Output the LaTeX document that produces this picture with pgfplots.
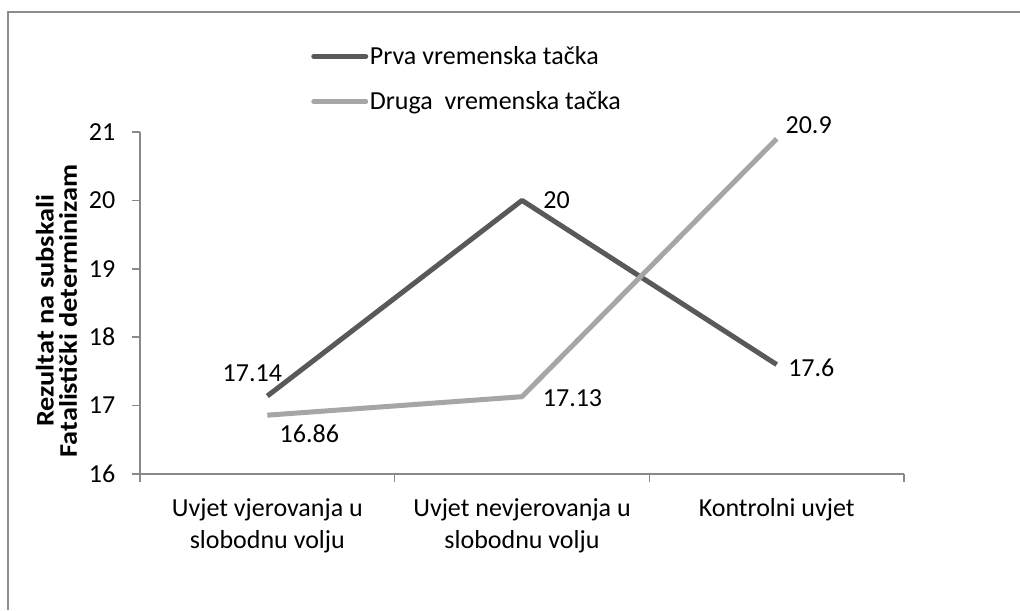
\documentclass[border=0pt]{standalone}
\usepackage{graphicx}
\usepackage{pgfplots}
\pgfplotsset{compat=1.18}
\usepackage{fontspec}
\setmainfont{Carlito}
\definecolor{prva}{HTML}{595959}
\definecolor{druga}{HTML}{A6A6A6}
\definecolor{axgray}{HTML}{898989}
\definecolor{framegray}{HTML}{8C8C8C}
\begin{document}
\begin{tikzpicture}
\useasboundingbox (0,0) rectangle (765pt,457.5pt);
\draw[framegray, line width=1.3pt] (6pt,0pt) -- (6pt,448.5pt) -- (765pt,448.5pt);
\begin{axis}[
  at={(105pt,102pt)}, anchor=south west,
  scale only axis, width=573pt, height=256.5pt,
  xmin=-0.5, xmax=2.5, ymin=16, ymax=21,
  axis lines=left, axis line style={-, axgray, line width=1.1pt},
  ytick={16,17,18,19,20,21},
  xtick={0,1,2},
  xticklabels={{Uvjet vjerovanja u\\slobodnu volju},{Uvjet nevjerovanja u\\slobodnu volju},{Kontrolni uvjet}},
  minor xtick={-0.5,0.5,1.5,2.5},
  major x tick style={draw=none},
  tick align=outside,
  tick style={axgray, line width=1.1pt},
  major tick length=6pt, minor tick length=6pt,
  xticklabel style={align=center, font=\fontsize{19.5}{23.6}\selectfont, yshift=-9pt},
  yticklabel style={font=\fontsize{19.5}{22}\selectfont, xshift=-9pt},
  /pgf/number format/assume math mode=true,
  ylabel={\scalebox{1.12}[1]{\textbf{Rezultat na subskali}}\\\scalebox{1.12}[1]{\textbf{Fatalistički determinizam}}},
  every axis y label/.style={at={(ticklabel cs:0.477)}, rotate=90, anchor=south, align=center,
    font=\fontsize{19}{17.5}\selectfont, yshift=2pt},
  legend style={draw=none, fill=none, inner sep=0pt, at={(rel axis cs:0.2238,1.155)}, anchor=west,
    font=\fontsize{19.5}{22}\selectfont, row sep=19pt, nodes={inner xsep=1.2pt, inner ysep=0pt}},
  legend cell align=left,
  legend image code/.code={\draw[#1, line cap=round] (0pt,0pt) -- (39pt,0pt);},
  clip=false,
]
\addplot[prva, line width=3.75pt, line join=round] coordinates {(0,17.14) (1,20) (2,17.6)};
\addlegendentry{Prva vremenska tačka}
\addplot[druga, line width=3.75pt, line join=round] coordinates {(0,16.86) (1,17.13) (2,20.9)};
\addlegendentry{Druga\ \ vremenska tačka}
\begin{scope}[every node/.style={font=\fontsize{19.5}{22}\selectfont}]
\node[xshift=-11.25pt, yshift=17.25pt] at (axis cs:0,17.14) {17.14};
\node[xshift=26pt] at (axis cs:1,20) {20};
\node[xshift=26pt, yshift=-2.2pt] at (axis cs:2,17.6) {17.6};
\node[xshift=31.5pt, yshift=-13.9pt] at (axis cs:0,16.86) {16.86};
\node[xshift=37.9pt, yshift=-1.35pt] at (axis cs:1,17.13) {17.13};
\node[xshift=24pt, yshift=10.5pt] at (axis cs:2,20.9) {20.9};
\end{scope}
\end{axis}
\end{tikzpicture}
\end{document}
